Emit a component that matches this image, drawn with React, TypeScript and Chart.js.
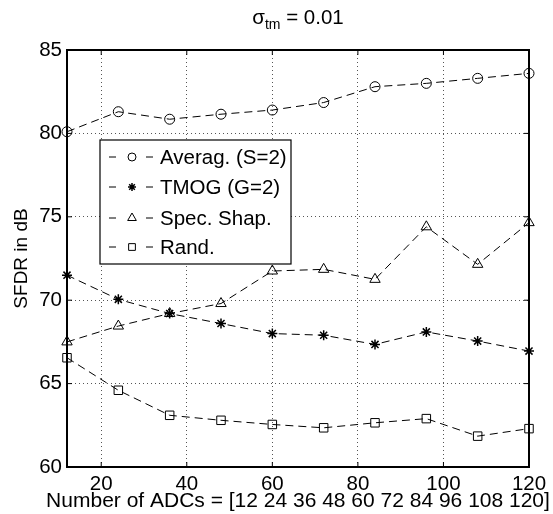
import React, { useEffect, useRef } from "react";
import { Chart, registerables } from "chart.js";

Chart.register(...registerables);

// ---- data ----
const adcCounts = [12, 24, 36, 48, 60, 72, 84, 96, 108, 120];
const averagS2 = [80.1, 81.3, 80.85, 81.15, 81.4, 81.85, 82.8, 83.0, 83.3, 83.6];
const tmogG2 = [71.5, 70.05, 69.2, 68.6, 68.0, 67.9, 67.35, 68.1, 67.55, 66.95];
const specShap = [67.5, 68.45, 69.2, 69.8, 71.75, 71.85, 71.25, 74.4, 72.15, 74.65];
const randSel = [66.55, 64.6, 63.1, 62.8, 62.55, 62.35, 62.65, 62.9, 61.85, 62.3];
const seriesLabels = ["Averag. (S=2)", "TMOG (G=2)", "Spec. Shap.", "Rand."];
const seriesMarkers = ["circle", "star", "triangle", "rect"];
const xTickValues = [20, 40, 60, 80, 100, 120];
const yTickValues = [60, 65, 70, 75, 80, 85];
const titleMain = "σ";
const titleSub = "tm";
const titleRest = " = 0.01";
const xTitle = "Number of ADCs = [12 24 36 48 60 72 84 96 108 120]";
const yTitle = "SFDR in dB";

const FONT = '"Liberation Sans", Arial, Helvetica, sans-serif';
const FS = 20.5;

function drawMarker(ctx: CanvasRenderingContext2D, style: string, x: number, y: number, r: number) {
  ctx.beginPath();
  if (style === "circle") {
    ctx.arc(x, y, r, 0, Math.PI * 2);
  } else if (style === "star") {
    for (let k = 0; k < 4; k++) {
      const a = (k * Math.PI) / 4;
      ctx.moveTo(x - Math.cos(a) * r, y - Math.sin(a) * r);
      ctx.lineTo(x + Math.cos(a) * r, y + Math.sin(a) * r);
    }
  } else if (style === "triangle") {
    for (let k = 0; k < 3; k++) {
      const a = -Math.PI / 2 + (k * 2 * Math.PI) / 3;
      const px = x + Math.cos(a) * r;
      const py = y + Math.sin(a) * r;
      if (k === 0) ctx.moveTo(px, py);
      else ctx.lineTo(px, py);
    }
    ctx.closePath();
  } else {
    const s = r * 0.75;
    ctx.rect(x - s, y - s, 2 * s, 2 * s);
  }
  ctx.stroke();
}

const frameAndTicks = {
  id: "frameAndTicks",
  afterDatasetsDraw(chart: any) {
    const ctx = chart.ctx as CanvasRenderingContext2D;
    const { left, right, top, bottom } = chart.chartArea;
    const xs = chart.scales.x;
    const ys = chart.scales.y;
    ctx.save();
    ctx.strokeStyle = "#000";
    ctx.lineWidth = 1;
    const tl = 5;
    ctx.beginPath();
    xTickValues.forEach((v) => {
      const px = xs.getPixelForValue(v);
      ctx.moveTo(px, bottom);
      ctx.lineTo(px, bottom - tl);
      ctx.moveTo(px, top);
      ctx.lineTo(px, top + tl);
    });
    yTickValues.forEach((v) => {
      const py = ys.getPixelForValue(v);
      ctx.moveTo(left, py);
      ctx.lineTo(left + tl, py);
      ctx.moveTo(right, py);
      ctx.lineTo(right - tl, py);
    });
    ctx.stroke();
    ctx.lineWidth = 2;
    ctx.strokeRect(left, top, right - left, bottom - top);
    ctx.restore();
  },
};

const legendAndTitle = {
  id: "legendAndTitle",
  afterDraw(chart: any) {
    const ctx = chart.ctx as CanvasRenderingContext2D;
    const { left, right } = chart.chartArea;
    ctx.save();
    // legend box
    const bx = 100, by = 140, bw = 191, bh = 124;
    ctx.fillStyle = "#fff";
    ctx.fillRect(bx, by, bw, bh);
    ctx.strokeStyle = "#000";
    ctx.lineWidth = 1.2;
    ctx.strokeRect(bx, by, bw, bh);
    const rowY = [157, 187, 218, 247];
    const legendR = [4, 4, 5, 4.5];
    ctx.font = `${FS}px ${FONT}`;
    ctx.textBaseline = "middle";
    ctx.textAlign = "left";
    seriesLabels.forEach((lab, i) => {
      const y = rowY[i];
      ctx.lineWidth = 1;
      ctx.beginPath();
      ctx.moveTo(109, y);
      ctx.lineTo(116, y);
      ctx.moveTo(146, y);
      ctx.lineTo(153, y);
      ctx.stroke();
      ctx.lineWidth = seriesMarkers[i] === "star" ? 1.5 : 1;
      drawMarker(ctx, seriesMarkers[i], 132, y, legendR[i]);
      ctx.fillStyle = "#000";
      ctx.fillText(lab, 160, y + 1);
    });
    // title with subscript
    const big = `${FS}px ${FONT}`;
    const small = `14px ${FONT}`;
    ctx.font = big;
    const w1 = ctx.measureText(titleMain).width;
    const w3 = ctx.measureText(titleRest).width;
    ctx.font = small;
    const w2 = ctx.measureText(titleSub).width;
    let x = (left + right) / 2 - (w1 + w2 + w3) / 2;
    const y = 24;
    ctx.textBaseline = "alphabetic";
    ctx.fillStyle = "#000";
    ctx.font = big;
    ctx.fillText(titleMain, x, y);
    x += w1;
    ctx.font = small;
    ctx.fillText(titleSub, x, y + 5);
    x += w2;
    ctx.font = big;
    ctx.fillText(titleRest, x, y);
    // x-axis title (drawn without width constraint)
    ctx.font = `21px ${FONT}`;
    ctx.textAlign = "center";
    ctx.textBaseline = "middle";
    ctx.fillText(xTitle, (left + right) / 2, 501);
    ctx.restore();
  },
};

function makeDataset(label: string, values: number[], marker: string, radius: number, bw: number) {
  return {
    label,
    data: adcCounts.map((x, i) => ({ x, y: values[i] })),
    borderColor: "#000",
    borderWidth: 1,
    borderDash: [8, 5],
    pointStyle: marker,
    pointRadius: radius,
    pointBorderColor: "#000",
    pointBackgroundColor: "rgba(0,0,0,0)",
    pointBorderWidth: bw,
    tension: 0,
    fill: false,
    clip: false as any,
  };
}

export default function App() {
  const ref = useRef<HTMLCanvasElement | null>(null);
  useEffect(() => {
    if (!ref.current) return;
    Chart.defaults.font.family = FONT;
    Chart.defaults.color = "#000";
    const chart = new Chart(ref.current, {
      type: "line",
      data: {
        datasets: [
          makeDataset(seriesLabels[0], averagS2, "circle", 5, 1),
          makeDataset(seriesLabels[1], tmogG2, "star", 5, 1.5),
          makeDataset(seriesLabels[2], specShap, "triangle", 6, 1),
          makeDataset(seriesLabels[3], randSel, "rect", 6, 1),
        ] as any,
      },
      options: {
        animation: false,
        responsive: false,
        devicePixelRatio: 1,
        layout: { padding: { top: 50, right: 24, bottom: 0, left: 0 } },
        plugins: {
          legend: { display: false },
          title: { display: false },
          tooltip: { enabled: false },
        },
        scales: {
          x: {
            type: "linear",
            min: 12,
            max: 120,
            afterBuildTicks: (s: any) => {
              s.ticks = xTickValues.map((v) => ({ value: v }));
            },
            afterFit: (s: any) => {
              s.height = 47;
            },
            ticks: {
              font: { size: FS, family: FONT },
              color: "#000",
              padding: 5,
              maxRotation: 0,
              autoSkip: false,
            },
            grid: { color: "#555", drawTicks: false, lineWidth: 1 },
            border: { display: false, dash: [1, 3] },
            title: { display: false },
          },
          y: {
            type: "linear",
            min: 60,
            max: 85,
            afterBuildTicks: (s: any) => {
              s.ticks = yTickValues.map((v) => ({ value: v }));
            },
            afterFit: (s: any) => {
              s.width = 67;
            },
            ticks: {
              font: { size: FS, family: FONT },
              color: "#000",
              padding: 5,
            },
            grid: { color: "#555", drawTicks: false, lineWidth: 1 },
            border: { display: false, dash: [1, 3] },
            title: {
              display: true,
              text: yTitle,
              font: { size: 19, family: FONT },
              color: "#000",
              padding: { top: 10, bottom: 0 },
            },
          },
        },
      },
      plugins: [frameAndTicks, legendAndTitle],
    });
    return () => chart.destroy();
  }, []);
  return (
    <div style={{ position: "absolute", left: 0, top: 0, width: 553, height: 514, background: "#fff" }}>
      <canvas ref={ref} width={553} height={514} style={{ display: "block", width: 553, height: 514 }} />
    </div>
  );
}
